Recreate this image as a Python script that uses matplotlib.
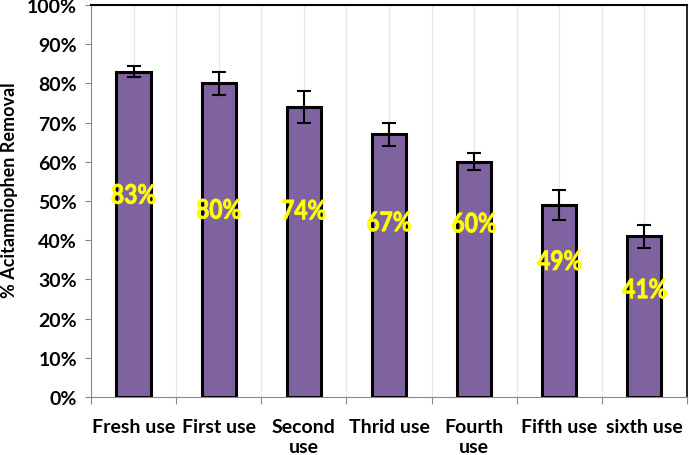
import numpy as np
import matplotlib.pyplot as plt
from matplotlib.textpath import TextPath
from matplotlib.patches import PathPatch
from matplotlib.font_manager import FontProperties
import matplotlib.transforms as mtransforms

# data
cats = ['Fresh use', 'First use', 'Second\nuse', 'Thrid use', 'Fourth\nuse', 'Fifth use', 'sixth use']
removal = [83, 80, 74, 67, 60, 49, 41]  # percent
err = [1.3, 3.0, 4.0, 3.0, 2.2, 3.9, 2.9]
label_y = [51.8, 48, 47.8, 44.8, 44.5, 34.9, 27.7]  # where the yellow text sits

plt.rcParams['font.family'] = ['Lato', 'DejaVu Sans']
plt.rcParams['font.weight'] = 'bold'

fig = plt.figure(figsize=(6.89, 4.56), dpi=100)
ax = fig.add_axes([0.132, 0.127, 0.865, 0.86])

x = np.arange(len(cats))
ax.bar(x, removal, width=0.4, color='#7F62A0', edgecolor='black', linewidth=2.2, zorder=3)
ax.errorbar(x, removal, yerr=err, fmt='none', ecolor='black', elinewidth=1.5,
            capsize=5, capthick=1.5, zorder=4)

# squeezed yellow labels (condensed look)
fp = FontProperties(family='Lato', weight='bold')
for xi, v, ly in zip(x, removal, label_y):
    tp = TextPath((0, 0), f'{v}%', size=24, prop=fp)
    bb = tp.get_extents()
    tr = (mtransforms.Affine2D()
          .translate(-(bb.x0 + bb.x1) / 2, -(bb.y0 + bb.y1) / 2)
          .scale(0.95, 1.12)
          + mtransforms.ScaledTranslation(xi, ly, ax.transData))
    ax.add_patch(PathPatch(tp, transform=tr, facecolor='#FFFF00', edgecolor='#FFFF00',
                           linewidth=0.6, zorder=5))

ax.set_xlim(-0.5, len(cats) - 0.5)
ax.set_ylim(0, 100)
ax.set_yticks(np.arange(0, 101, 10))
ax.set_yticklabels([f'{t}%' for t in range(0, 101, 10)], fontsize=14, fontweight='bold')
ax.tick_params(axis='y', length=4, color='#888888', pad=6)

# vertical gridlines at centres and boundaries
for g in np.arange(-0.5, len(cats), 0.5):
    ax.axvline(g, color='#e6e6e6', lw=0.9, zorder=0)

ax.set_xticks(np.arange(-0.5, len(cats), 1), minor=False)
ax.set_xticklabels([])
ax.tick_params(axis='x', which='major', length=5, color='#888888', direction='out')
ax.set_xticks(x, minor=True)
ax.set_xticklabels(cats, minor=True, fontsize=14, fontweight='bold', va='top')
ax.tick_params(axis='x', which='minor', length=0, pad=15)

ax.set_ylabel('% Acitamniophen Removal', fontsize=13, fontweight='bold')
ax.yaxis.set_label_coords(-0.123, 0.53)

ax.spines['left'].set_color('#888888')
ax.spines['bottom'].set_color('#888888')
ax.spines['top'].set_color('black')
ax.spines['top'].set_linewidth(1.5)
ax.spines['right'].set_color('black')
ax.spines['right'].set_linewidth(1.2)

fig.savefig('out.png', dpi=100)
